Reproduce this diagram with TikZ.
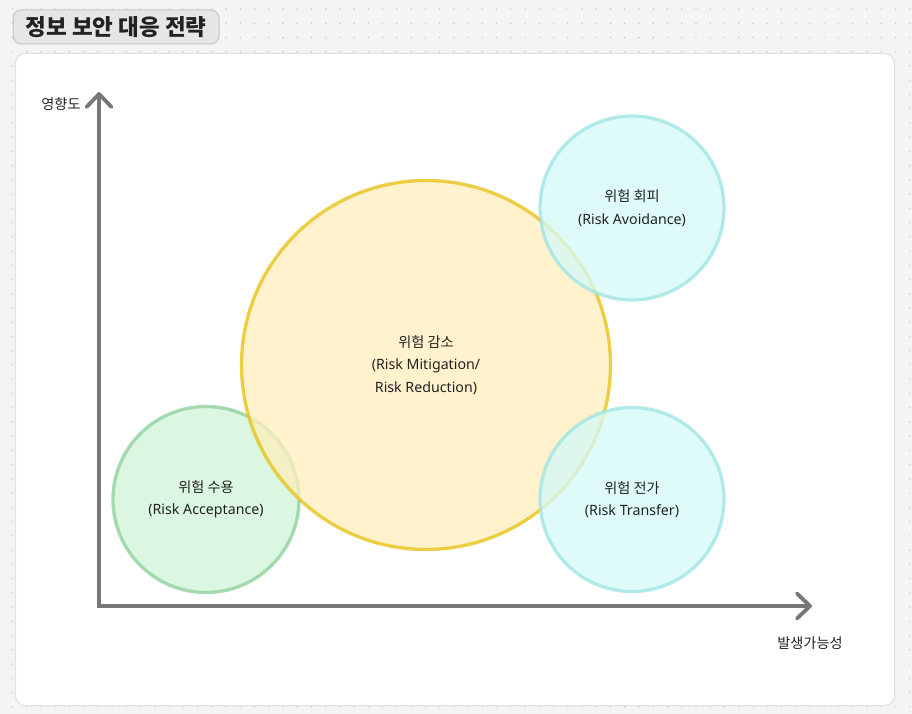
\documentclass[tikz,border=0pt]{standalone}
\usepackage{fontspec}
\setmainfont{Noto Sans CJK KR}
\newfontfamily\lat{Noto Sans}
\begin{document}
\begin{tikzpicture}[x=1pt,y=-1pt,
  lbl/.style={font=\fontsize{14.2}{23}\selectfont, text=txt, align=center},
  bubble/.style={circle, inner sep=0pt, line width=3.3pt, fill opacity=0.75, draw opacity=0.75, text opacity=1, font=\fontsize{14.2}{22.5}\selectfont, text=txt, align=center},
  axis/.style={draw=axisgray, line width=3.8pt},
  tip/.style={draw=axisgray, line width=3.8pt, line cap=round, line join=round}]
\definecolor{bg}{HTML}{F4F4F4}
\definecolor{dotc}{HTML}{C9C9C9}
\definecolor{txt}{HTML}{222222}
\definecolor{axisgray}{HTML}{777777}
\definecolor{titlefill}{HTML}{E6E6E6}
\definecolor{titleline}{HTML}{C6C6C6}
\definecolor{panelline}{HTML}{E2E2E2}
\definecolor{yfill}{HTML}{FFEEBB}
\definecolor{yline}{HTML}{E6C00E}
\definecolor{gfill}{HTML}{D0F3D8}
\definecolor{gline}{HTML}{8BCF98}
\definecolor{cfill}{HTML}{D4FAF9}
\definecolor{cline}{HTML}{9CE3E3}
\useasboundingbox (0,0) rectangle (912,714);
\fill[bg] (0,0) rectangle (912,714);
\foreach \i in {0,...,64}{
  \foreach \j in {0,...,50}{
    \fill[dotc] (-1.8+\i*14.24, 9+\j*14.24) circle (0.8);
  }
}
% panel
\fill[black!6, rounded corners=10pt] (14,53) rectangle (896,706);
\node[draw=panelline, fill=white, rounded corners=10pt, line width=1pt, inner sep=0pt, minimum width=879pt, minimum height=652pt, anchor=north west] (panel) at (15,53) {};
% title
\node[draw=titleline, fill=titlefill, rounded corners=8pt, line width=1pt, minimum width=206pt, minimum height=34pt, inner sep=0pt, font=\fontsize{22.5}{24}\selectfont\bfseries, text=txt] (title) at (116,27) {정보 보안 대응 전략};
% circles
\node[bubble, draw=gline, fill=gfill, minimum size=186pt] (accept) at (206,499.5) {위험 수용\\{\lat(Risk Acceptance)}};
\node[bubble, draw=yline, fill=yfill, minimum size=369pt] (mitig) at (426,365) {위험 감소\\{\lat(Risk Mitigation/}\\{\lat Risk Reduction)}};
\node[bubble, draw=cline, fill=cfill, minimum size=184pt] (avoid) at (632,208) {위험 회피\\{\lat(Risk Avoidance)}};
\node[bubble, draw=cline, fill=cfill, minimum size=184pt] (transfer) at (632,499.5) {위험 전가\\{\lat(Risk Transfer)}};
% axes
\coordinate (origin) at (99,606);
\coordinate (ytip) at (99,94);
\coordinate (xtip) at (810,606);
\draw[axis] (ytip) -- (origin) -- (xtip);
\draw[tip] ([shift={(-12.5,13)}]ytip) -- (ytip) -- ([shift={(12.5,13)}]ytip);
\draw[tip] ([shift={(-13,-12.5)}]xtip) -- (xtip) -- ([shift={(-13,12.5)}]xtip);
\node[lbl] (ylabel) at (61,104) {영향도};
\node[lbl] (xlabel) at (810,643) {발생가능성};
\end{tikzpicture}
\end{document}
